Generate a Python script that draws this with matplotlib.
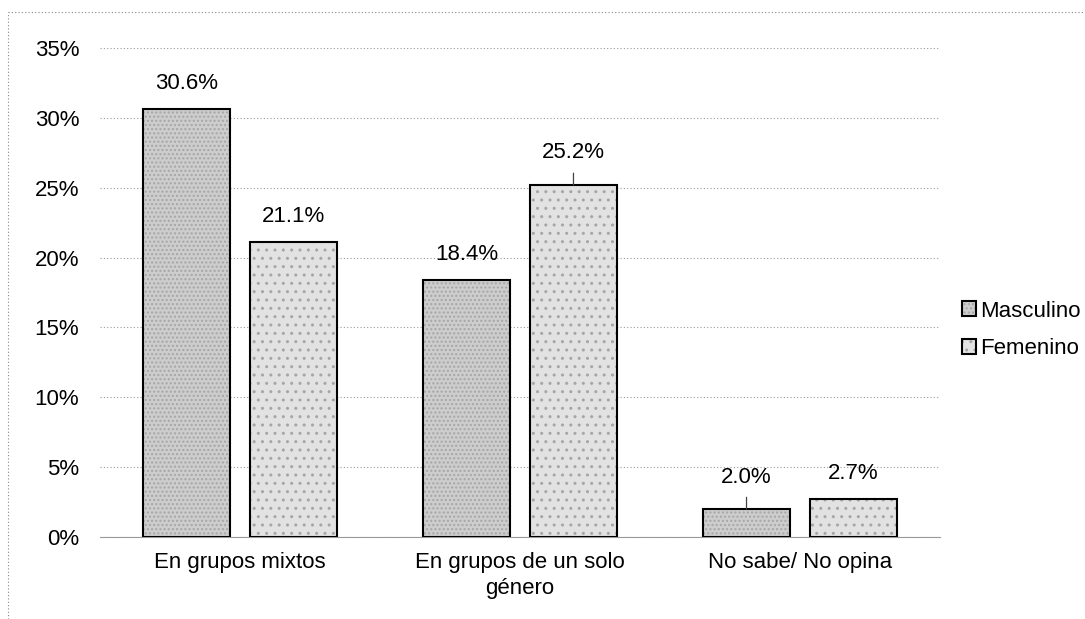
import matplotlib
matplotlib.use("Agg")
import matplotlib.pyplot as plt
import numpy as np
from matplotlib.lines import Line2D

categories = ["En grupos mixtos", "En grupos de un solo\ngénero", "No sabe/ No opina"]
series = ["Masculino", "Femenino"]
masculino = [30.6, 18.4, 2.0]
femenino = [21.1, 25.2, 2.7]
yticks = [0, 5, 10, 15, 20, 25, 30, 35]

plt.rcParams['font.family'] = ['Liberation Sans', 'DejaVu Sans']
FS = 16

fig = plt.figure(figsize=(10.85, 6.19), dpi=100)
ax = fig.add_axes([100/1085, 1-537/619, 840/1085, 489/619])

x = np.arange(len(categories))
w = 0.31
gap = 0.072
colors = ['#cdcdcd', '#e2e2e2']
bars_m = ax.bar(x - (w+gap)/2, masculino, w, color=colors[0], edgecolor='black', linewidth=1.5,
                hatch='....', label=series[0], zorder=3)
bars_f = ax.bar(x + (w+gap)/2, femenino, w, color=colors[1], edgecolor='black', linewidth=1.5,
                hatch='..', label=series[1], zorder=3)
for b in list(bars_m) + list(bars_f):
    b._hatch_color = (0.65, 0.65, 0.65, 1)

# data labels; two of them have small leader lines in the original
leader = {(1, 1), (0, 2)}
for si, bars in enumerate([bars_m, bars_f]):
    for ci, b in enumerate(bars):
        v = b.get_height()
        xc = b.get_x() + b.get_width()/2
        if (si, ci) in leader:
            ax.annotate(f"{v:.1f}%", xy=(xc, v), xytext=(0, 23), textcoords='offset points',
                        ha='center', va='center', fontsize=FS,
                        arrowprops=dict(arrowstyle='-', color='#444444', lw=0.9, shrinkA=5, shrinkB=0))
        else:
            ax.annotate(f"{v:.1f}%", xy=(xc, v), xytext=(0, 18.5), textcoords='offset points',
                        ha='center', va='center', fontsize=FS)

ax.set_xlim(-0.5, len(categories) - 0.5)
ax.set_ylim(0, 35)
ax.set_yticks(yticks)
ax.set_yticklabels([f"{t}%" for t in yticks], fontsize=FS)
ax.set_xticks(x)
ax.set_xticklabels(categories, fontsize=FS, linespacing=1.3)
ax.tick_params(axis='both', length=0)
ax.tick_params(axis='y', pad=15)
ax.tick_params(axis='x', pad=11)
ax.grid(axis='y', color='#9a9a9a', linestyle=(0, (1, 2)), linewidth=0.8, zorder=0)
for s in ['top', 'right', 'left']:
    ax.spines[s].set_visible(False)
ax.spines['bottom'].set_color('#9a9a9a')
ax.spines['bottom'].set_linestyle((0, (1, 1)))

fig.legend(handles=[bars_m, bars_f], labels=series, loc='center left',
           bbox_to_anchor=(942/1085, 1-330/619), frameon=False, fontsize=FS,
           handlelength=0.65, handleheight=0.65, handletextpad=0.15, labelspacing=0.75)

# dotted scan border on top and left
fig.add_artist(Line2D([8/1085, 1], [1-12/619, 1-12/619], transform=fig.transFigure,
                      color='#888888', linestyle=(0, (1, 2)), linewidth=0.8))
fig.add_artist(Line2D([8/1085, 8/1085], [0, 1-12/619], transform=fig.transFigure,
                      color='#888888', linestyle=(0, (1, 2)), linewidth=0.8))

fig.savefig("out.png", dpi=100)
